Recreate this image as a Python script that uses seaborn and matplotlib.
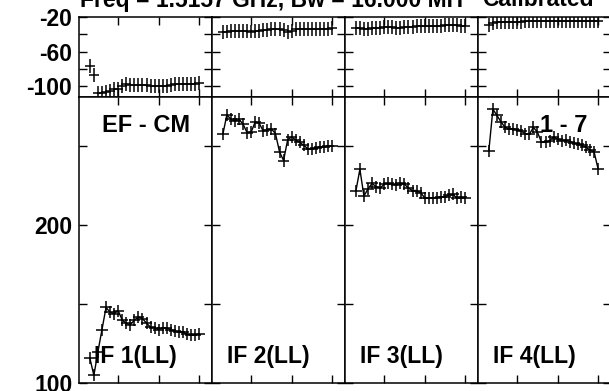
import matplotlib
matplotlib.use("Agg")
import matplotlib.pyplot as plt
import pandas as pd
import seaborn as sns
from matplotlib.ticker import FixedLocator, FixedFormatter

# ---------------- data ----------------
channels = list(range(3, 31))
if_labels = ["IF 1(LL)", "IF 2(LL)", "IF 3(LL)", "IF 4(LL)"]
title_left = "Freq = 1.5157 GHz, Bw = 16.000 MH"
title_right = "Calibrated"
baseline_label = "EF - CM"
source_label = "1 - 7"

top_if1 = [-76.5, -87, -108, -108, -106, -105.5, -103.5, -103, -99.5, -97, -98, -98.5,
           -98.5, -98.5, -98.5, -99, -99, -99, -99.5, -99.5, -98, -97.5, -97.5, -97,
           -97, -97, -97, -96.5]
top_if2 = [-38, -37, -36.5, -36, -36, -36, -36.5, -37, -36.5, -36, -35.5, -35,
           -34.5, -34.5, -34, -35, -38, -36, -34, -34, -34, -34, -34, -34.5,
           -34.5, -34, -34, -33.5]
top_if3 = [-32.5, -33.5, -34, -34, -33.5, -33, -32.5, -32, -32, -32, -32.5, -32.5,
           -32, -32, -31.5, -31, -31, -30.5, -30.5, -31, -31, -30.5, -30, -30,
           -30, -30, -30.5, -30.5]
top_if4 = [-30, -27, -26.5, -26.5, -26, -26, -26, -26, -26, -25.5, -25.5, -25.5,
           -25, -25, -24.5, -24.5, -24.5, -24.5, -25, -25, -25, -25, -25, -25,
           -25, -25, -25, -25]

bot_if1 = [116, 105, 120, 134, 148, 145, 144, 146, 140, 138, 137, 140,
           142, 141, 138, 135.5, 135, 134, 135, 135, 134, 133, 132.5, 132.5,
           131, 130.5, 130.5, 131.5]
bot_if2 = [257.5, 270, 267, 266, 267, 264, 258.5, 259, 265.5, 264.5, 259.5, 260.5,
           261, 258, 246.5, 241, 254, 256, 254, 252.5, 250.5, 248.5, 248.5, 249,
           249.5, 249.5, 250, 250]
bot_if3 = [221.5, 235.5, 218.5, 223, 226.5, 224.5, 223.5, 226, 226.5, 226, 225.5, 226.5,
           226, 223.5, 222, 222, 220.5, 217.5, 217, 217.5, 217.5, 218, 218, 219,
           219.5, 217, 218, 217]
bot_if4 = [247, 273.5, 269.5, 265.5, 262, 261, 261, 260.5, 259.5, 258, 257.5, 262,
           259, 252.5, 252.5, 253.5, 256, 254.5, 253.5, 254, 253, 252, 251.5, 250.5,
           249.5, 247.5, 246.5, 235.5]

top_series = [top_if1, top_if2, top_if3, top_if4]
bot_series = [bot_if1, bot_if2, bot_if3, bot_if4]

top_ticks = [-100, -80, -60, -40, -20]
top_ticklabels = ["-100", "", "-60", "", "-20"]
bot_ticks = [100, 150, 200, 250]
bot_ticklabels = ["100", "", "200", ""]
x_ticks = [10, 20, 30]

# ---------------- style ----------------
sns.set_style("white")
plt.rcParams['font.family'] = ['Liberation Sans', 'DejaVu Sans']
plt.rcParams['font.weight'] = 'bold'
plt.rcParams['text.color'] = 'black'
plt.rcParams['xtick.color'] = 'black'
plt.rcParams['ytick.color'] = 'black'
FS = 16.5

W, H = 609, 391
fig = plt.figure(figsize=(W / 100, H / 100), dpi=100)


def fx(px):
    return px / W


def fy(py):
    return 1 - py / H


col_left = [78.5, 211.5, 344.5, 477.5]
colw = 133
top_y0, top_y1 = 16.7, 97.3
bot_y0, bot_y1 = 97.3, 383.3


def style_axes(ax, yticks, ylabels, show_labels):
    ax.set_xlim(0.2, 33.05)
    ax.xaxis.set_major_locator(FixedLocator(x_ticks))
    ax.yaxis.set_major_locator(FixedLocator(yticks))
    ax.yaxis.set_major_formatter(FixedFormatter(ylabels))
    ax.tick_params(direction='in', length=6, width=1, color='black',
                   labelcolor='black',
                   top=True, right=True, bottom=True, left=True,
                   labelbottom=False, labelleft=show_labels,
                   labelsize=FS, pad=4.5)
    for lab in ax.get_yticklabels():
        lab.set_fontweight('bold')
    for sp in ax.spines.values():
        sp.set_color('black')
        sp.set_linewidth(1.1)
    ax.set_xlabel("")
    ax.set_ylabel("")


for i in range(4):
    axt = fig.add_axes([fx(col_left[i]), fy(top_y1), colw / W, (top_y1 - top_y0) / H])
    axb = fig.add_axes([fx(col_left[i]), fy(bot_y1), colw / W, (bot_y1 - bot_y0) / H])

    dft = pd.DataFrame({'channel': channels, 'value': top_series[i]})
    dfb = pd.DataFrame({'channel': channels, 'value': bot_series[i]})

    axt.errorbar(dft['channel'], dft['value'], xerr=1.2, yerr=8, fmt='none',
                 ecolor='black', elinewidth=1.1)

    sns.lineplot(data=dfb, x='channel', y='value', ax=axb, color='black',
                 linewidth=1.0, estimator=None, sort=False)
    axb.errorbar(dfb['channel'], dfb['value'], xerr=1.4, yerr=3.8, fmt='none',
                 ecolor='black', elinewidth=1.1)

    axt.set_ylim(-112.5, -20)
    axb.set_ylim(100, 281)
    style_axes(axt, top_ticks, top_ticklabels, i == 0)
    style_axes(axb, bot_ticks, bot_ticklabels, i == 0)

    fig.text(fx(col_left[i] + 15.5), fy(363), if_labels[i], fontsize=FS,
             fontweight='bold', va='baseline', ha='left', color='black')

fig.text(fx(101.5), fy(131.7), baseline_label, fontsize=FS + 0.5,
         fontweight='bold', va='baseline', ha='left', color='black')
fig.text(fx(540), fy(131.7), source_label, fontsize=FS + 0.5,
         fontweight='bold', va='baseline', ha='left', color='black')

fig.text(fx(80), fy(6.5), title_left, fontsize=FS, fontweight='bold',
         va='baseline', ha='left', color='black')
fig.text(fx(482), fy(6.5), title_right, fontsize=FS, fontweight='bold',
         va='baseline', ha='left', color='black')

fig.savefig("out.png", dpi=100)
